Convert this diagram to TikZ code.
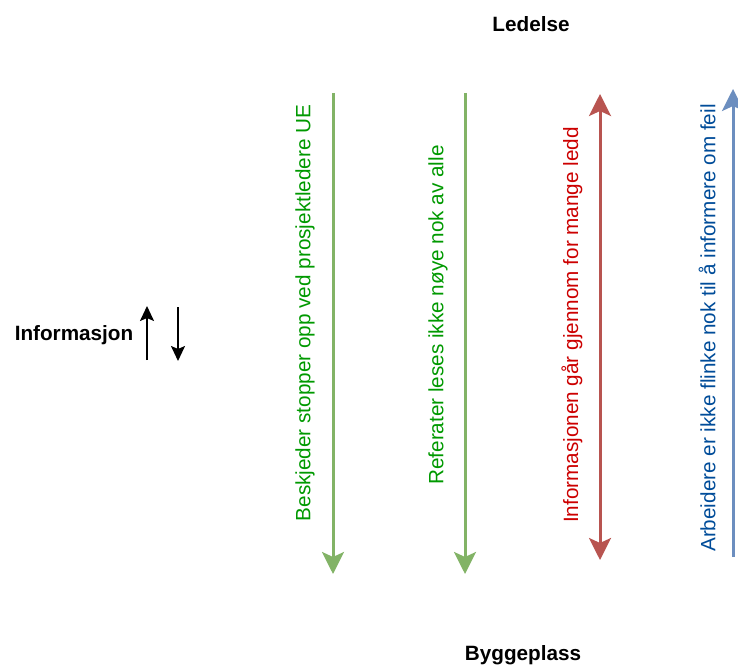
\documentclass[tikz,border=0pt]{standalone}
\usepackage{fontspec}
\setmainfont{Liberation Sans}
\usetikzlibrary{arrows.meta}
\definecolor{gline}{HTML}{82B366}
\definecolor{rline}{HTML}{B85450}
\definecolor{bline}{HTML}{6C8EBF}
\definecolor{gtext}{HTML}{009900}
\definecolor{rtext}{HTML}{CC0000}
\definecolor{btext}{HTML}{004C99}
\tikzset{
  bigtip/.style={-{Stealth[length=22pt,width=22pt,inset=5pt]}},
  vlab/.style={rotate=90, inner sep=0pt},
  title/.style={font=\fontsize{20.7}{24}\selectfont\bfseries},
  smallarr/.style={line width=2pt, -{Stealth[length=15pt,width=14pt,inset=3pt]}}
}
\begin{document}
\begin{tikzpicture}[x=1pt,y=-1pt, font=\fontsize{20.7}{24}\selectfont]
\useasboundingbox (0,0) rectangle (738,668);
\node[title] (top) at (531,24) {Ledelse};
\node[title] (bot) at (523,655) {Byggeplass};
\node[title] (info) at (74,335) {Informasjon};
\coordinate (ua) at (147,360); \coordinate (ub) at (147,306);
\coordinate (da) at (178,307); \coordinate (db) at (178,361);
\draw[smallarr] (ua) -- (ub);
\draw[smallarr] (da) -- (db);
% green 1
\coordinate (g1a) at (333,93); \coordinate (g1b) at (333,574);
\draw[gline, line width=3pt, bigtip] (g1a) -- (g1b);
\node[vlab, text=gtext] (t1) at (305,313) {Beskjeder stopper opp ved prosjektledere UE};
% green 2
\coordinate (g2a) at (465,93); \coordinate (g2b) at (465,574);
\draw[gline, line width=3pt, bigtip] (g2a) -- (g2b);
\node[vlab, text=gtext] (t2) at (438,315) {Referater leses ikke nøye nok av alle};
% red
\coordinate (ra) at (600,94); \coordinate (rb) at (600,560);
\draw[rline, line width=3pt, {Stealth[length=22pt,width=22pt,inset=5pt]}-{Stealth[length=22pt,width=22pt,inset=5pt]}] (ra) -- (rb);
\node[vlab, text=rtext] (t3) at (572,325) {Informasjonen går gjennom for mange ledd};
% blue
\coordinate (ba) at (733,557); \coordinate (bb) at (733,89);
\draw[bline, line width=3pt, bigtip] (ba) -- (bb);
\node[vlab, text=btext] (t4) at (707,328) {Arbeidere er ikke flinke nok til å informere om feil};
\end{tikzpicture}
\end{document}
